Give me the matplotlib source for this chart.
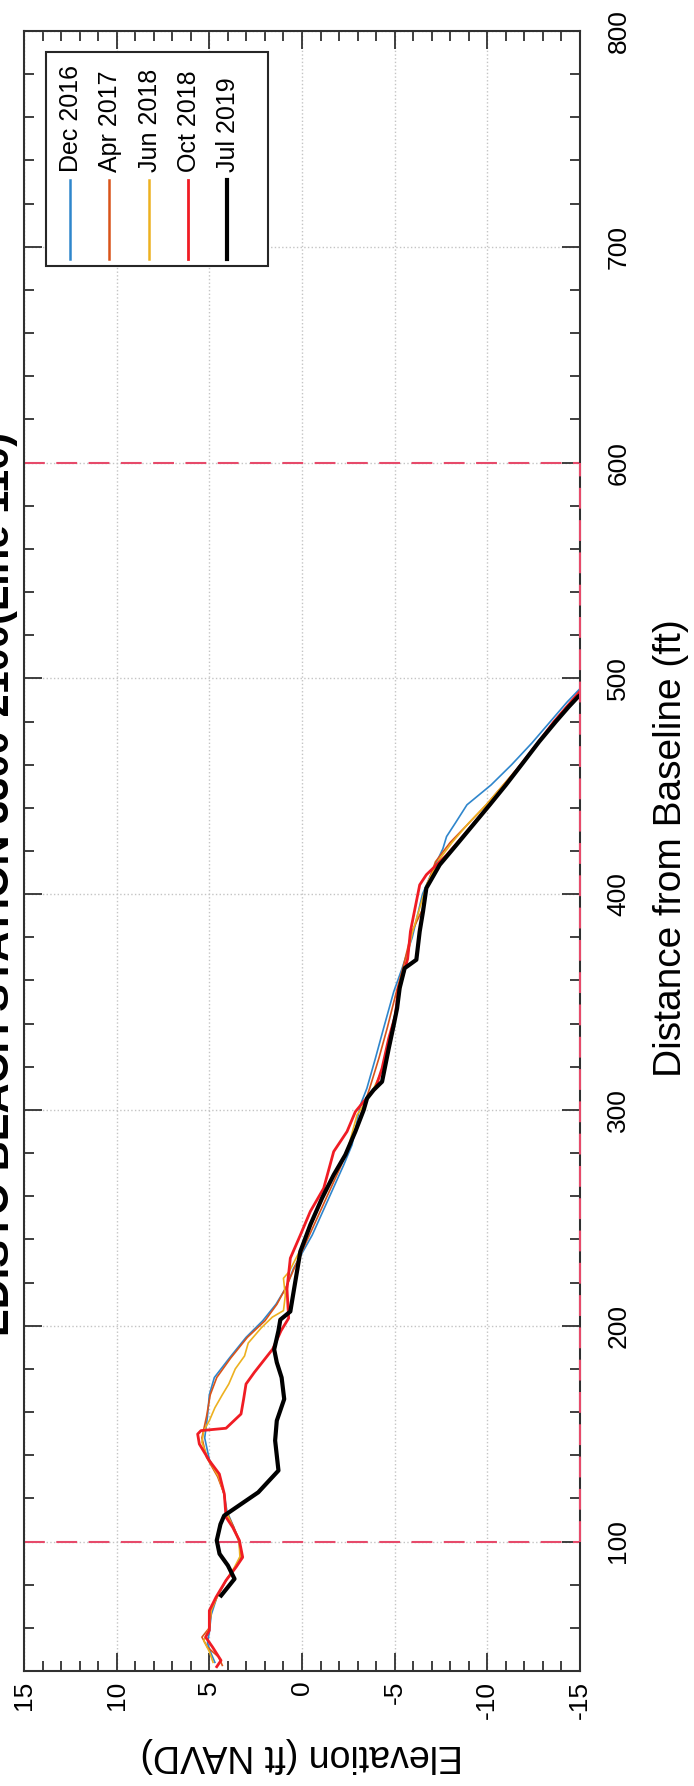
import matplotlib
matplotlib.use('Agg')
import matplotlib.pyplot as plt
from matplotlib.patches import Rectangle
from matplotlib.lines import Line2D
from matplotlib.ticker import MultipleLocator

plt.rcParams['font.family'] = ['Liberation Sans', 'DejaVu Sans']
plt.rcParams['axes.unicode_minus'] = False

# survey profiles: distance from baseline (ft) vs elevation (ft NAVD)
dec16_dist = [44, 48, 53, 58, 66, 74, 82, 88, 93, 100, 107, 114, 122, 130, 138, 148, 158, 168, 176, 185,
              194.6, 202.3, 210, 217.7, 226.7, 242, 259, 274.5, 283.8, 302.3, 310, 323.9, 337.8, 354.8,
              365.6, 380, 400, 412, 421, 426.7, 432.9, 441.4, 446, 450.6, 459.9, 470, 480, 489, 497]
dec16_elev = [4.7, 4.9, 5.1, 5.0, 4.9, 4.6, 4.1, 3.6, 3.3, 3.4, 3.7, 4.05, 4.2, 4.5, 5.0, 5.25, 5.1, 5.0,
              4.73, 3.92, 3.02, 2.12, 1.4, 0.86, 0.45, -0.55, -1.44, -2.25, -2.7, -3.15, -3.5, -3.96, -4.4,
              -4.95, -5.4, -5.95, -6.5, -7.1, -7.6, -7.8, -8.27, -8.9, -9.55, -10.2, -11.3, -12.4, -13.4,
              -14.3, -15.2]

apr17_dist = [42.6, 46.5, 51, 55.7, 60, 68, 74, 82, 88, 92, 100, 107, 114, 122, 130, 139, 148, 158, 168,
              176, 185, 194.6, 202.3, 210, 218, 227, 242, 259, 274, 284, 300, 310, 324, 338, 355, 366,
              382, 393, 404, 415, 424, 432, 441, 451, 461, 471, 480, 488, 496]
apr17_elev = [4.3, 4.5, 5.1, 5.4, 5.0, 4.9, 4.6, 4.1, 3.6, 3.3, 3.35, 3.7, 4.1, 4.2, 4.55, 5.15, 5.4, 5.15,
              4.95, 4.6, 3.85, 2.95, 2.0, 1.35, 0.85, 0.4, -0.4, -1.3, -2.1, -2.6, -3.25, -3.65, -4.15,
              -4.6, -5.1, -5.45, -5.9, -6.5, -6.75, -7.2, -8.0, -8.9, -9.9, -10.9, -11.9, -12.8, -13.6,
              -14.4, -15.2]

jun18_dist = [44, 49, 54, 60, 68, 75, 82, 88, 93, 100, 107, 114, 122, 130, 139, 146, 151.4, 156, 162, 168,
              173, 180, 186, 192, 199, 204, 207, 214, 222, 225, 235, 248, 262, 280.7, 297.7, 307, 318,
              333, 345, 358, 368, 382, 395, 405, 416, 424, 433, 442, 451, 461, 471, 480, 488, 496]
jun18_elev = [4.8, 5.0, 5.3, 5.0, 4.9, 4.55, 4.1, 3.65, 3.35, 3.4, 3.75, 4.1, 4.2, 4.5, 5.1, 5.4, 5.3, 5.0,
              4.7, 4.3, 3.95, 3.6, 3.1, 2.9, 2.2, 1.6, 1.0, 0.9, 1.0, 0.7, 0.1, -0.55, -1.25, -2.43, -2.97,
              -3.7, -4.3, -4.7, -5.05, -5.35, -5.6, -5.95, -6.4, -6.75, -7.4, -8.1, -9.0, -10.0, -10.9,
              -11.9, -12.8, -13.6, -14.4, -15.2]

oct18_dist = [42, 44.9, 51, 55.7, 58.8, 68, 74.2, 82, 88.1, 92.7, 100.5, 106.6, 111.3, 122, 131.3, 137.5,
              145.2, 149.8, 151.4, 152.5, 159.1, 166, 173, 178.4, 189.2, 197.7, 203.5, 217, 231.3, 242,
              253, 263.7, 280.7, 290, 299.2, 303.9, 310, 319.3, 333.2, 344, 356.5, 361, 370, 382.7,
              404.3, 409, 418, 423, 432, 441, 451, 461, 471, 480, 487, 495]
oct18_elev = [4.6, 4.37, 4.82, 5.2, 5.0, 5.0, 4.64, 4.1, 3.56, 3.2, 3.38, 3.74, 4.1, 4.19, 4.46, 5.0, 5.54,
              5.63, 5.45, 4.1, 3.29, 3.15, 3.02, 2.57, 1.58, 1.13, 0.72, 0.81, 0.63, 0.09, -0.45, -1.17,
              -1.71, -2.43, -2.88, -3.33, -3.96, -4.32, -4.68, -5.04, -5.2, -5.4, -5.7, -5.85, -6.35,
              -6.71, -7.79, -8.3, -9.2, -10.1, -11.0, -11.9, -12.8, -13.6, -14.3, -15.1]

jul19_dist = [75, 82.7, 88.9, 94.3, 100.5, 108, 112, 122.8, 132.9, 146.8, 156, 166, 176, 183, 189, 197.7,
              202.8, 206.6, 215.9, 234.4, 246.8, 259.1, 269.9, 279.2, 290, 300, 305.4, 309.3, 313.1,
              320.8, 328.5, 339.4, 347.1, 356.5, 365.7, 369.6, 382.7, 392, 402.8, 413.6, 422.8, 432.1,
              441.4, 450.6, 460.6, 470.7, 480, 486.9, 491.5, 494]
jul19_elev = [4.36, 3.64, 4.0, 4.45, 4.6, 4.4, 4.2, 2.36, 1.27, 1.45, 1.36, 0.96, 1.1, 1.36, 1.5, 1.27,
              1.17, 0.63, 0.45, 0.09, -0.45, -1.08, -1.71, -2.34, -2.88, -3.33, -3.51, -3.87, -4.32,
              -4.5, -4.68, -4.95, -5.13, -5.27, -5.54, -6.17, -6.35, -6.53, -6.71, -7.43, -8.33, -9.23,
              -10.13, -11.0, -11.9, -12.8, -13.7, -14.4, -14.9, -15.3]

survey_labels = ['Dec 2016', 'Apr 2017', 'Jun 2018', 'Oct 2018', 'Jul 2019']
survey_colors = ['#2f86cc', '#d95319', '#edb120', '#f01c24', '#000000']
survey_widths = [1.2, 1.2, 1.2, 2.0, 3.0]

zone_limits = [100, 600]
elev_ticks = [15, 10, 5, 0, -5, -10, -15]
dist_ticks = [100, 200, 300, 400, 500, 600, 700, 800]

W, H = 694, 1786


def fx(px):
    return px / W


def fy(py):
    return 1 - py / H


fig = plt.figure(figsize=(W / 100, H / 100), dpi=100)
ax = fig.add_axes([fx(24), fy(1671), fx(580) - fx(24), fy(31) - fy(1671)])

series = [(dec16_dist, dec16_elev), (apr17_dist, apr17_elev), (jun18_dist, jun18_elev),
          (oct18_dist, oct18_elev), (jul19_dist, jul19_elev)]
for (d, e), c, lw in zip(series, survey_colors, survey_widths):
    ax.plot(e, d, color=c, lw=lw, solid_joinstyle='round', zorder=3)

# dashed zone lines
for z in zone_limits:
    ax.plot([15, -15], [z, z], color='#e64a6a', lw=1.5, dashes=(10, 5.5), zorder=2)
ax.plot([-15, -15], zone_limits, color='#e64a6a', lw=1.5, dashes=(10, 5.5), zorder=4, clip_on=False)

ax.set_xlim(15, -15)
ax.set_ylim(40, 800)
ax.set_xticks(elev_ticks)
ax.set_xticklabels([str(t) for t in elev_ticks])
ax.set_yticks(dist_ticks)
ax.set_yticklabels([str(t) for t in dist_ticks])
ax.xaxis.set_minor_locator(MultipleLocator(1))
ax.yaxis.set_minor_locator(MultipleLocator(20))
ax.grid(True, which='major', linestyle=':', color='#c4c4c4', lw=1.0)
ax.set_axisbelow(True)

for s in ax.spines.values():
    s.set_color('#303030')
    s.set_linewidth(1.5)
ax.tick_params(which='both', direction='in', top=True, bottom=True, left=True, right=True,
               labelleft=False, labelright=True, color='#303030', width=1.3)
ax.tick_params(which='major', length=13)
ax.tick_params(which='minor', length=7)
ax.tick_params(axis='x', labelsize=19, pad=7, labelrotation=90)
ax.tick_params(axis='y', labelsize=19, pad=19, labelrotation=90)
for lab in ax.get_yticklabels():
    lab.set_verticalalignment('center')

# axis labels and title (figure is laid out sideways)
fig.text(fx(671), fy(848), 'Distance from Baseline (ft)', rotation=90, ha='center', va='center', fontsize=28)
fig.text(fx(302), fy(1755), 'Elevation (ft NAVD)', rotation=180, ha='center', va='center', fontsize=27)
fig.text(fx(18), fy(884), 'EDISTO BEACH STATION 3300-2100(Line 110)', rotation=90, ha='right',
         va='center', fontsize=30, fontweight='bold')

# legend, drawn by hand so the entries read sideways
fig.add_artist(Rectangle((fx(46), fy(266)), fx(268) - fx(46), fy(52) - fy(266), transform=fig.transFigure,
                         facecolor='white', edgecolor='#262626', lw=1.5, zorder=5))
entry_x = [70, 109, 149, 188, 227]
for x, lab, c, lw in zip(entry_x, survey_labels, survey_colors, survey_widths):
    fig.add_artist(Line2D([fx(x), fx(x)], [fy(259), fy(180)], transform=fig.transFigure, color=c,
                          lw=max(lw, 1.8), zorder=6))
    fig.text(fx(x + 1), fy(172), lab, rotation=90, ha='center', va='bottom', fontsize=18, zorder=6)

fig.savefig('out.png', dpi=100)
